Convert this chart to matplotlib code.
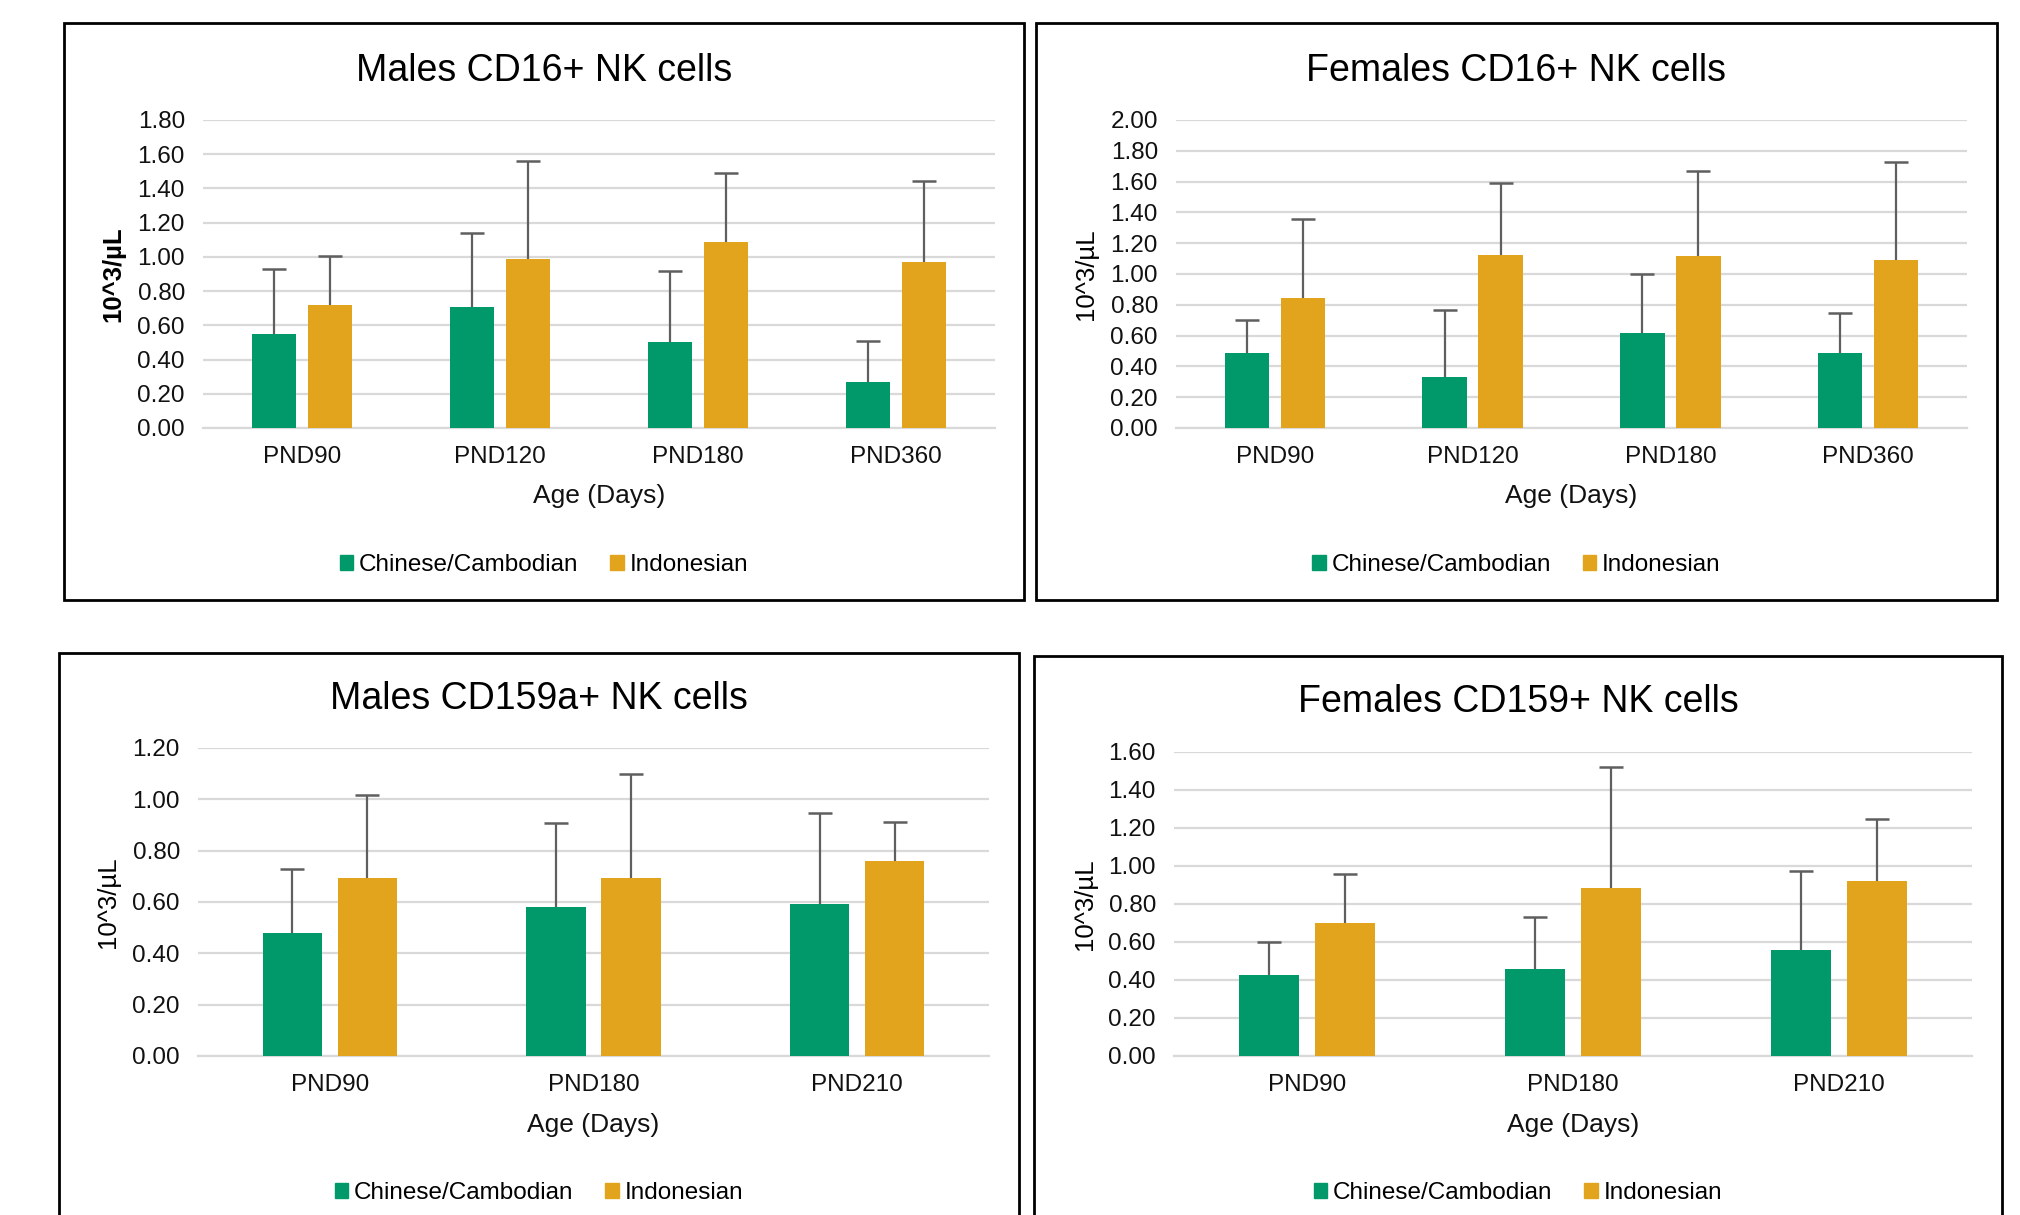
import matplotlib
matplotlib.use("Agg")
import matplotlib.pyplot as plt
from matplotlib.patches import Rectangle, Patch
import numpy as np

plt.rcParams['font.family'] = ['Liberation Sans', 'DejaVu Sans']

# ---------------- data ----------------
series_names = ["Chinese/Cambodian", "Indonesian"]

m16_title = "Males CD16+ NK cells"
m16_cats = ["PND90", "PND120", "PND180", "PND360"]
m16_green = [0.55, 0.71, 0.50, 0.27]
m16_green_top = [0.93, 1.14, 0.92, 0.51]
m16_orange = [0.72, 0.985, 1.085, 0.97]
m16_orange_top = [1.005, 1.56, 1.49, 1.445]

f16_title = "Females CD16+ NK cells"
f16_cats = ["PND90", "PND120", "PND180", "PND360"]
f16_green = [0.49, 0.33, 0.62, 0.485]
f16_green_top = [0.70, 0.765, 1.00, 0.75]
f16_orange = [0.845, 1.125, 1.115, 1.09]
f16_orange_top = [1.357, 1.59, 1.67, 1.73]

m159_title = "Males CD159a+ NK cells"
m159_cats = ["PND90", "PND180", "PND210"]
m159_green = [0.48, 0.582, 0.594]
m159_green_top = [0.727, 0.909, 0.945]
m159_orange = [0.692, 0.695, 0.758]
m159_orange_top = [1.016, 1.098, 0.912]

f159_title = "Females CD159+ NK cells"
f159_cats = ["PND90", "PND180", "PND210"]
f159_green = [0.426, 0.458, 0.559]
f159_green_top = [0.602, 0.731, 0.973]
f159_orange = [0.699, 0.884, 0.922]
f159_orange_top = [0.958, 1.521, 1.246]

ylabel_text = "10^3/\u00b5L"
xlabel_text = "Age (Days)"

# ---------------- style ----------------
GREEN = "#02996A"
ORANGE = "#E2A41D"
ERR = "#5F5F5F"
GRID = "#D9D9D9"

W, H = 2020, 1215
fig = plt.figure(figsize=(W / 100, H / 100), dpi=100)


def fx(x):
    return x / W


def fy(y):
    return 1 - y / H


panels = [
    dict(title=m16_title, cats=m16_cats, g=m16_green, gt=m16_green_top, o=m16_orange, ot=m16_orange_top,
         ymax=1.8, box=(64, 23, 1024, 600), plot=(203, 120, 995, 428), ylx=113, bold=True,
         ty=71, ay=496, ly=565),
    dict(title=f16_title, cats=f16_cats, g=f16_green, gt=f16_green_top, o=f16_orange, ot=f16_orange_top,
         ymax=2.0, box=(1036, 23, 1997, 600), plot=(1176, 120, 1967, 428), ylx=1086, bold=False,
         ty=71, ay=496, ly=565),
    dict(title=m159_title, cats=m159_cats, g=m159_green, gt=m159_green_top, o=m159_orange, ot=m159_orange_top,
         ymax=1.2, box=(59, 653, 1019, 1300), plot=(198, 748, 989, 1056), ylx=108, bold=False,
         ty=699, ay=1125, ly=1193),
    dict(title=f159_title, cats=f159_cats, g=f159_green, gt=f159_green_top, o=f159_orange, ot=f159_orange_top,
         ymax=1.6, box=(1034, 656, 2002, 1300), plot=(1174, 752, 1972, 1056), ylx=1085, bold=False,
         ty=702, ay=1125, ly=1193),
]

bw = 0.225
off = 0.142

for p in panels:
    bx0, by0, bx1, by1 = p["box"]
    fig.add_artist(Rectangle((fx(bx0), fy(by1)), fx(bx1) - fx(bx0), fy(by0) - fy(by1),
                             transform=fig.transFigure, fill=False, edgecolor="black",
                             linewidth=2.0, zorder=0, clip_on=False))
    x0, y0, x1, y1 = p["plot"]
    ax = fig.add_axes([fx(x0), fy(y1), fx(x1) - fx(x0), fy(y0) - fy(y1)])
    n = len(p["cats"])
    xs = np.arange(n)
    g = np.array(p["g"]); gt = np.array(p["gt"])
    o = np.array(p["o"]); ot = np.array(p["ot"])
    ax.bar(xs - off, g, width=bw, color=GREEN, zorder=3)
    ax.bar(xs + off, o, width=bw, color=ORANGE, zorder=3)
    for xx, v, top in ((xs - off, g, gt), (xs + off, o, ot)):
        eb = ax.errorbar(xx, v, yerr=[np.zeros(n), top - v], fmt="none", ecolor=ERR,
                         elinewidth=1.6, capsize=8.5, capthick=1.8, zorder=4)
        caps = eb[1]
        for c in caps:
            yd = np.asarray(c.get_ydata(), dtype=float)
            if np.allclose(yd, v):
                c.set_visible(False)
    ax.set_xlim(-0.5, n - 0.5)
    ax.set_ylim(0, p["ymax"])
    ax.set_yticks(np.arange(0, p["ymax"] + 1e-9, 0.2))
    ax.yaxis.set_major_formatter(matplotlib.ticker.FormatStrFormatter("%.2f"))
    ax.set_xticks(xs)
    ax.set_xticklabels(p["cats"])
    ax.grid(axis="y", color=GRID, linewidth=1.6, zorder=0)
    ax.set_axisbelow(True)
    for s in ("top", "right", "left"):
        ax.spines[s].set_visible(False)
    ax.spines["bottom"].set_color(GRID)
    ax.spines["bottom"].set_linewidth(1.6)
    ax.tick_params(axis="both", length=0, labelsize=17.5, colors="#111111")
    ax.tick_params(axis="y", pad=13)
    ax.tick_params(axis="x", pad=13)
    ax.patch.set_alpha(0)

    cx = (bx0 + bx1) / 2
    fig.text(fx(cx), fy(p["ty"]), p["title"], ha="center", va="center", fontsize=27, color="black")
    fig.text(fx((x0 + x1) / 2), fy(p["ay"]), xlabel_text, ha="center", va="center", fontsize=19,
             color="#111111")
    fig.text(fx(p["ylx"]), fy((y0 + y1) / 2), ylabel_text, ha="center", va="center", rotation=90,
             fontsize=18.5, fontweight="bold" if p["bold"] else "normal", color="black")
    handles = [Patch(color=GREEN, label=series_names[0]), Patch(color=ORANGE, label=series_names[1])]
    fig.legend(handles=handles, loc="center", bbox_to_anchor=(fx(cx), fy(p["ly"])),
               bbox_transform=fig.transFigure, ncol=2, frameon=False, fontsize=17.5,
               handlelength=0.55, handleheight=0.55, handletextpad=0.25, columnspacing=1.3)

fig.savefig("out.png", dpi=100, facecolor="white")
